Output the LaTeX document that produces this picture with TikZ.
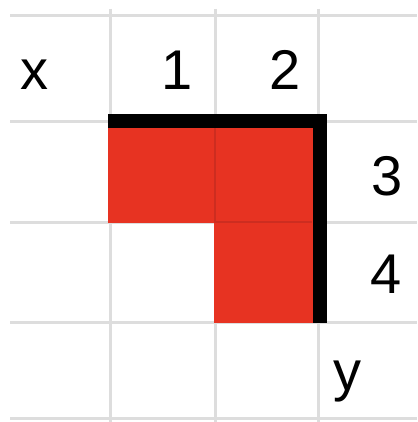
\documentclass[tikz,border=0pt]{standalone}
\usepackage{fontspec}
\setmainfont{Liberation Sans}
\definecolor{gridgray}{RGB}{221,221,221}
\definecolor{cellred}{RGB}{231,51,34}
\definecolor{cellline}{RGB}{205,45,32}
\tikzset{
  gridline/.style={draw=gridgray, line width=3pt},
  label/.style={inner sep=0pt, font=\fontsize{56}{60}\selectfont, text=black},
  redcell/.style={fill=cellred, draw=none},
  border/.style={draw=black, line width=14pt, line join=miter, line cap=butt}
}
\begin{document}
\begin{tikzpicture}[x=1pt, y=-1pt]
\useasboundingbox (0,0) rectangle (417,422);
% grid
\foreach \yy in {16,122,222,322,418} \draw[gridline] (10,\yy) -- (417,\yy);
\foreach \xx in {110,215,318} \draw[gridline] (\xx,9) -- (\xx,422);
% red cells
\fill[redcell] (108,122) rectangle (319,223);
\fill[redcell] (214,222) rectangle (319,323);
\draw[cellline, line width=1.2pt] (215,122) -- (215,222);
\draw[cellline, line width=1.2pt] (214,222) -- (312,222);
% black border
\draw[border] (108,121.5) -- (319.5,121.5) -- (319.5,323);
% labels
\node[label, anchor=base west] (lx) at (20,90) {x};
\node[label, anchor=base east] (l1) at (193,90) {1};
\node[label, anchor=base east] (l2) at (301,90) {2};
\node[label, anchor=base east] (l3) at (403,195) {3};
\node[label, anchor=base east] (l4) at (402,293) {4};
\node[label, anchor=base west] (ly) at (333,390) {y};
\end{tikzpicture}
\end{document}
